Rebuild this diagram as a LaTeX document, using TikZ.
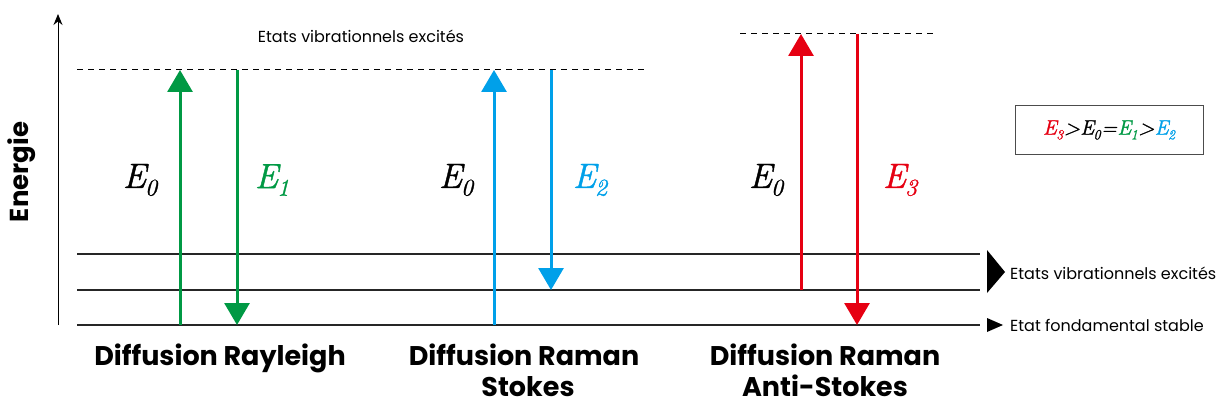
\documentclass[tikz,border=0pt]{standalone}
\usepackage{fontspec}
\setmainfont{Poppins}
\newfontfamily\efont{Latin Modern Roman}[FakeBold=1.2]
\usetikzlibrary{arrows.meta}
\definecolor{cgreen}{RGB}{0,153,68}
\definecolor{cblue}{RGB}{0,160,233}
\definecolor{cred}{RGB}{230,0,18}
\newcommand\Esb[3]{{\efont\itshape E\kern-0.03em\raisebox{-0.22em}{\fontsize{#1}{#1}\selectfont #2}}}
\begin{document}
\begin{tikzpicture}[x=1pt,y=-1pt,
  level/.style={line width=1.2pt,black!85},
  dashlevel/.style={line width=1pt,dash pattern=on 6pt off 5pt},
  trans/.style={line width=3pt,-{Triangle[width=25pt,length=22pt]}},
  ebig/.style={font=\fontsize{35}{38}\selectfont,inner sep=0pt},
  small/.style={font=\fontsize{16}{18}\selectfont,inner sep=0pt},
  title/.style={font=\fontsize{27}{35}\selectfont\bfseries,inner sep=0pt,anchor=base}]
\useasboundingbox (0,0) rectangle (1218,406);
% axis
\coordinate (ax0) at (58,325);
\coordinate (ax1) at (58,14);
\draw[line width=1pt,-{Stealth[width=9pt,length=11pt]}] (ax0) -- (ax1);
\node[rotate=90,font=\fontsize{26}{28}\selectfont\bfseries,inner sep=0pt] (energie) at (22,172) {Energie};
% levels
\coordinate (l1a) at (77,254); \coordinate (l1b) at (980,254);
\coordinate (l2a) at (77,290); \coordinate (l2b) at (980,290);
\coordinate (l3a) at (77,325); \coordinate (l3b) at (980,325);
\draw[level] (l1a) -- (l1b);
\draw[level] (l2a) -- (l2b);
\draw[level] (l3a) -- (l3b);
\coordinate (d1a) at (77,70); \coordinate (d1b) at (647,70);
\coordinate (d2a) at (740,34); \coordinate (d2b) at (933,34);
\draw[dashlevel] (d1a) -- (d1b);
\draw[dashlevel] (d2a) -- (d2b);
\node[small] (virt) at (361,36) {Etats vibrationnels excités};
% Rayleigh
\coordinate (g1a) at (180,325); \coordinate (g1b) at (180,70);
\coordinate (g2a) at (237,70); \coordinate (g2b) at (237,325);
\draw[trans,cgreen] (g1a) -- (g1b);
\draw[trans,cgreen] (g2a) -- (g2b);
\node[ebig] (e0a) at (140,180) {\Esb{24}{0}{}};
\node[ebig,text=cgreen] (e1) at (272,180) {\Esb{24}{1}{}};
% Stokes
\coordinate (b1a) at (494,325); \coordinate (b1b) at (494,70);
\coordinate (b2a) at (551,70); \coordinate (b2b) at (551,290);
\draw[trans,cblue] (b1a) -- (b1b);
\draw[trans,cblue] (b2a) -- (b2b);
\node[ebig] (e0b) at (456,180) {\Esb{24}{0}{}};
\node[ebig,text=cblue] (e2) at (590,180) {\Esb{24}{2}{}};
% Anti-Stokes
\coordinate (r1a) at (801,290); \coordinate (r1b) at (801,34);
\coordinate (r2a) at (857,34); \coordinate (r2b) at (857,325);
\draw[trans,cred] (r1a) -- (r1b);
\draw[trans,cred] (r2a) -- (r2b);
\node[ebig] (e0c) at (766,180) {\Esb{24}{0}{}};
\node[ebig,text=cred] (e3) at (900,180) {\Esb{24}{3}{}};
% titles
\node[title] (t1) at (220,365) {Diffusion Rayleigh};
\node[title] (t2a) at (524,365) {Diffusion Raman};
\node[title] (t2b) at (528,396) {Stokes};
\node[title] (t3a) at (825,365) {Diffusion Raman};
\node[title] (t3b) at (825,396) {Anti-Stokes};
% legend box
\node[draw=black!70,line width=0.8pt,minimum width=188pt,minimum height=49pt,inner sep=0pt,font=\fontsize{21}{24}\selectfont\efont\itshape] (box) at (1109,130)
  {\textcolor{cred}{\Esb{14}{3}{}}\kern0.03em>\kern0.02em\Esb{14}{0}{}\kern0.03em=\kern0.02em\textcolor{cgreen}{\Esb{14}{1}{}}\kern0.03em>\kern0.02em\textcolor{cblue}{\Esb{14}{2}{}}};
% right labels
\coordinate (ta) at (987,250); \coordinate (tb) at (1005,272); \coordinate (tc) at (987,293);
\fill (ta) -- (tb) -- (tc) -- cycle;
\node[small,anchor=west] (vib) at (1010,273) {Etats vibrationnels excités};
\coordinate (sa) at (987,318); \coordinate (sb) at (1003,325); \coordinate (sc) at (987,332);
\fill (sa) -- (sb) -- (sc) -- cycle;
\node[small,anchor=west] (fond) at (1010,325) {Etat fondamental stable};
\end{tikzpicture}
\end{document}
